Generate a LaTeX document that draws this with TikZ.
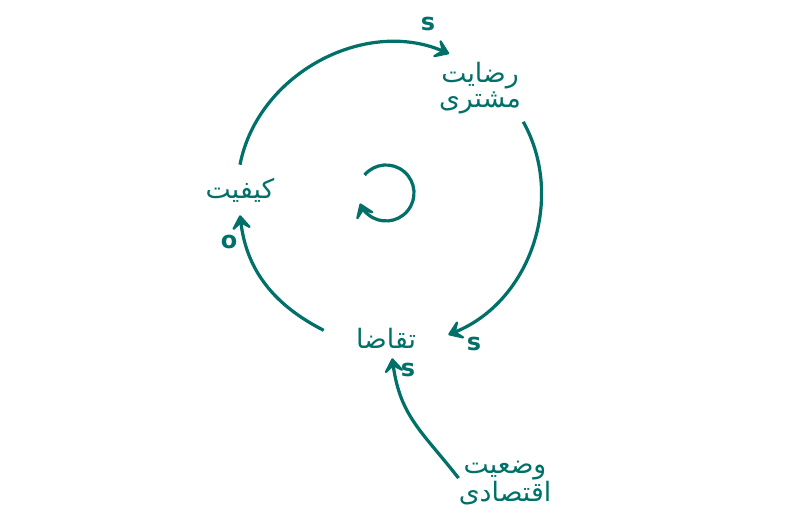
\documentclass[tikz,border=0pt]{standalone}
\usepackage{fontspec}
\usetikzlibrary{arrows.meta}
\setmainfont{DejaVu Sans}
\newfontfamily\arabicfont[Script=Arabic]{DejaVu Sans}
\TeXXeTstate=1
\definecolor{loopTeal}{RGB}{0,112,105}
\tikzstyle{varNode}=[text=loopTeal,inner sep=0pt,align=center,font=\arabicfont\fontsize{19}{18}\selectfont]
\tikzstyle{polLabel}=[text=loopTeal,inner sep=0pt,font=\bfseries\fontsize{17}{20}\selectfont]
\tikzstyle{link}=[-{Stealth[length=13pt,width=18pt,inset=6.5pt,round]}, line width=2.3pt, draw=loopTeal]

\begin{document}
\begin{tikzpicture}

    \useasboundingbox (0,0) rectangle (20,13);

    \node[varNode,minimum width=2cm,minimum height=1.25cm] (kif) at (6.0, 8.25) {\beginR کیفیت\endR};
    \node[varNode,minimum width=2.15cm,minimum height=1.7cm] (rez) at (12.0, 10.8) {\beginR رضایت\endR\\\beginR مشتری\endR};
    \node[varNode,minimum width=3.1cm,minimum height=1cm] (taq) at (9.65, 4.55) {\beginR تقاضا\endR};
    \node[varNode,minimum width=2.25cm,minimum height=1.4cm] (eqt) at (12.625, 0.925) {\beginR وضعیت\endR\\\beginR اقتصادی\endR};

    \node[polLabel] (s1) at (10.7, 12.4) {s};
    \node[polLabel] (s2) at (11.85, 4.4) {s};
    \node[polLabel] (o1) at (5.725, 6.95) {o};
    \node[polLabel] (s3) at (10.2, 3.75) {s};

    \coordinate (R) at (9.65, 8.175);

    \draw[link] (kif.north) to[out=79, in=157] (rez.132);
    \draw[link] (rez.-38) to[out=-61, in=22] (taq.3);
    \draw[link] (taq.173) to[out=153, in=-83] (kif.south);
    \draw[link] (eqt.174) to[out=128, in=-82, looseness=1.1] (taq.-73);

    \draw[link] (R) ++(140:0.7) arc[start angle=140, end angle=-158, radius=0.7];

\end{tikzpicture}
\end{document}
